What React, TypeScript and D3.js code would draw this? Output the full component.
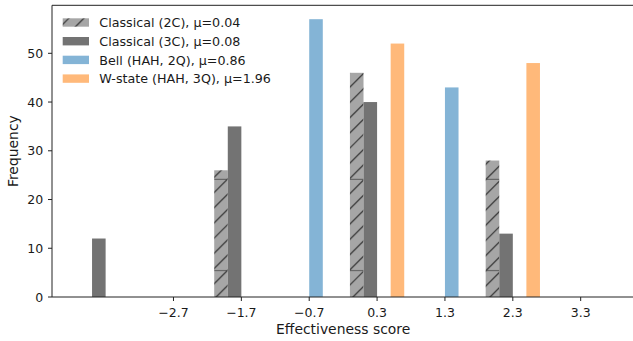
import React from "react";
import * as d3 from "d3";

const binCenters = [-3.7, -2.7, -1.7, -0.7, 0.3, 1.3, 2.3, 3.3];
const binWidth = 1;
const seriesNames = [
  "Classical (2C), μ=0.04",
  "Classical (3C), μ=0.08",
  "Bell (HAH, 2Q), μ=0.86",
  "W-state (HAH, 3Q), μ=1.96",
];
const classical2C = [0, 0, 26, 0, 46, 0, 28, 0];
const classical3C = [12, 0, 35, 0, 40, 0, 13, 0];
const bell2Q = [0, 0, 0, 57, 0, 43, 0, 0];
const wState3Q = [0, 0, 0, 0, 52, 0, 48, 0];
const xTicks = [-2.7, -1.7, -0.7, 0.3, 1.3, 2.3, 3.3];
const yTicks = [0, 10, 20, 30, 40, 50];

const seriesValues = [classical2C, classical3C, bell2Q, wState3Q];
const fills = ["#a6a6a6", "#737373", "#84b4d6", "#ffb97a"];

const W = 633;
const H = 341;
const left = 52;
const right = 634.3;
const top = 5.3;
const bottom = 297;

export default function App() {
  const xMin = binCenters[0] - binWidth / 2 + 0.1 * binWidth;
  const xMax = binCenters[binCenters.length - 1] + binWidth / 2 - 0.1 * binWidth;
  const pad = (xMax - xMin) * 0.05;
  const x = d3.scaleLinear().domain([xMin - pad, xMax + pad]).range([left, right]);
  const maxY = d3.max(seriesValues.flat()) as number;
  const y = d3.scaleLinear().domain([0, maxY * 1.05]).range([bottom, top]);

  const tile = 91.3;
  const step = tile / 6;
  const hatchLines: number[] = [];
  for (let k = -1; k <= 6 * 4 + 2; k++) hatchLines.push(14.3 + k * step);

  const fmt = (v: number) => (v < 0 ? "\u2212" + Math.abs(v).toFixed(1) : v.toFixed(1));
  const font = "DejaVu Sans, sans-serif";
  const textColor = "#1a1a1a";
  const tickFs = 12.5;
  const legendFs = 12.7;
  const labelFs = 13.9;

  const bars: React.ReactNode[] = [];
  seriesValues.forEach((vals, j) => {
    vals.forEach((v, i) => {
      if (v <= 0) return;
      const e = binCenters[i] - binWidth / 2;
      const x0 = e + binWidth * (0.1 + j * 0.2);
      const x1 = x0 + binWidth * 0.2;
      const px0 = x(x0);
      const px1 = x(x1);
      bars.push(
        <rect
          key={`b${j}-${i}`}
          x={px0}
          y={y(v)}
          width={px1 - px0}
          height={y(0) - y(v)}
          fill={j === 0 ? "url(#hatch)" : fills[j]}
        />
      );
    });
  });

  const pw = tile;
  const ph = tile * 3;

  return (
    <svg
      width={W}
      height={H}
      style={{ position: "absolute", left: 0, top: 0, background: "#fff" }}
      fontFamily={font}
    >
      <defs>
        <pattern id="hatch" patternUnits="userSpaceOnUse" x={0} y={88} width={pw} height={ph}>
          <rect x={0} y={0} width={pw} height={ph} fill={fills[0]} />
          {hatchLines.map((c, k) => (
            <line key={k} x1={c + 20} y1={-20} x2={c - ph - 20} y2={ph + 20} stroke="#333" strokeWidth={1.2} />
          ))}
          <line x1={0} y1={tile} x2={pw} y2={tile} stroke="#444" strokeWidth={0.8} />
          <line x1={0} y1={tile * 2} x2={pw} y2={tile * 2} stroke="#444" strokeWidth={0.8} />
        </pattern>
      </defs>
      <rect x={0} y={0} width={W} height={H} fill="#fff" />
      {bars}
      <line x1={left} y1={top} x2={left} y2={bottom} stroke="#222" strokeWidth={1} />
      <line x1={left} y1={bottom} x2={W} y2={bottom} stroke="#222" strokeWidth={1} />
      <line x1={left} y1={top} x2={W} y2={top} stroke="#222" strokeWidth={1} />
      {yTicks.map((t) => (
        <g key={`y${t}`}>
          <line x1={left - 4} x2={left} y1={y(t)} y2={y(t)} stroke="#222" strokeWidth={1} />
          <text x={43.2} y={y(t) + 4.6} textAnchor="end" fontSize={tickFs} fill={textColor}>
            {t}
          </text>
        </g>
      ))}
      {xTicks.map((t) => (
        <g key={`x${t}`}>
          <line x1={x(t)} x2={x(t)} y1={bottom} y2={bottom + 4} stroke="#222" strokeWidth={1} />
          <text x={x(t)} y={316.8} textAnchor="middle" fontSize={tickFs} fill={textColor}>
            {fmt(t)}
          </text>
        </g>
      ))}
      <text x={(left + right) / 2} y={334.4} textAnchor="middle" fontSize={labelFs} fill={textColor}>
        Effectiveness score
      </text>
      <text
        transform={`translate(${18.4},${(top + bottom) / 2}) rotate(-90)`}
        textAnchor="middle"
        fontSize={labelFs}
        fill={textColor}
      >
        Frequency
      </text>
      {seriesNames.map((name, j) => {
        const cy = 22.5 + j * 18.7;
        return (
          <g key={`l${j}`}>
            <rect
              x={62.7}
              y={cy - 4.2}
              width={26.3}
              height={8.4}
              fill={j === 0 ? "url(#hatch)" : fills[j]}
            />
            <text x={99.3} y={cy + 4.6} fontSize={legendFs} fill={textColor}>
              {name}
            </text>
          </g>
        );
      })}
    </svg>
  );
}
